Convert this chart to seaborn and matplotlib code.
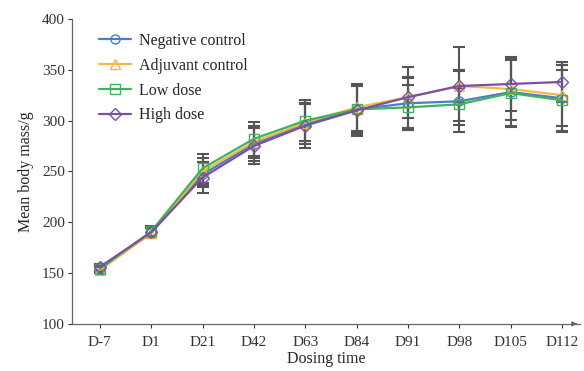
import numpy as np
import pandas as pd
import matplotlib
matplotlib.use("Agg")
import matplotlib.pyplot as plt
import seaborn as sns

days = ["D-7", "D1", "D21", "D42", "D63", "D84", "D91", "D98", "D105", "D112"]
groups = ["Negative control", "Adjuvant control", "Low dose", "High dose"]

neg_mean = [155, 190, 247, 277, 297, 311, 317, 319, 328, 322]
adj_mean = [153, 189, 250, 279, 298, 313, 323, 334, 331, 325]
low_mean = [154, 191, 253, 282, 300, 311, 313, 316, 327, 320]
high_mean = [156, 190, 244, 275, 295, 310, 323, 334, 336, 338]

neg_sd = [3, 5, 12, 17, 20, 23, 25, 30, 33, 33]
adj_sd = [3, 5, 13, 16, 18, 23, 20, 16, 30, 30]
low_sd = [3, 5, 14, 17, 20, 24, 22, 16, 33, 30]
high_sd = [3, 5, 15, 18, 22, 25, 30, 38, 27, 20]

means = [neg_mean, adj_mean, low_mean, high_mean]
sds = [neg_sd, adj_sd, low_sd, high_sd]
colors = ["#4a7cc9", "#f5b942", "#3cb55a", "#7a4fa6"]
markers = ["o", "^", "s", "D"]

rows = []
for g, m, s in zip(groups, means, sds):
    for i, d in enumerate(days):
        rows.append({"day": d, "idx": i, "group": g, "mean": m[i], "sd": s[i]})
df = pd.DataFrame(rows)

sns.set_theme(style="white")
plt.rcParams["font.family"] = ["Liberation Serif", "DejaVu Serif"]

fig = plt.figure(figsize=(5.84, 3.71), dpi=100)
ax = fig.add_axes([0.123, 0.127, 0.87, 0.822])

sns.lineplot(data=df, x="idx", y="mean", hue="group", style="group",
             palette=dict(zip(groups, colors)), markers=dict(zip(groups, markers)),
             dashes=False, ax=ax, linewidth=1.6, markersize=6.5,
             markerfacecolor="none", markeredgewidth=1.0, zorder=4)

for ln in ax.get_lines():
    ln.set_markeredgecolor(ln.get_color())
    ln.set_markerfacecolor("none")

for g in groups:
    sub = df[df["group"] == g]
    ax.errorbar(sub["idx"], sub["mean"], yerr=sub["sd"], fmt="none",
                ecolor="#555555", elinewidth=1.5, capsize=4, capthick=1.5, zorder=3)

ax.set_xlim(-0.545, 9.35)
ax.set_ylim(100, 400)
ax.set_yticks([100, 150, 200, 250, 300, 350, 400])
ax.set_xticks(range(len(days)))
ax.set_xticklabels(days)
ax.set_xlabel("Dosing time", fontsize=11.5, labelpad=1)
ax.set_ylabel("Mean body mass/g", fontsize=11.5, labelpad=6)
ax.tick_params(axis="both", labelsize=11, colors="#333333", length=3, width=0.8,
               direction="out", bottom=True, left=True, pad=2)
ax.tick_params(axis="x", pad=6)
for sp in ["top", "right"]:
    ax.spines[sp].set_visible(False)
for sp in ["left", "bottom"]:
    ax.spines[sp].set_color("#666666")
    ax.spines[sp].set_linewidth(0.9)
ax.annotate("", xy=(1.0, 0), xycoords="axes fraction", xytext=(0.985, 0),
            arrowprops=dict(arrowstyle="-|>", color="#666666", lw=0.9, mutation_scale=7))

handles, labels = ax.get_legend_handles_labels()
for h in handles:
    h.set_markerfacecolor("none")
    h.set_markeredgecolor(h.get_color())
leg = ax.legend(handles, labels, loc="upper left", bbox_to_anchor=(0.035, 0.985),
                frameon=False, fontsize=11.5, handlelength=2.0, labelspacing=0.55,
                handletextpad=0.5, borderaxespad=0.2)

fig.savefig("out.png", dpi=100, facecolor="white")
